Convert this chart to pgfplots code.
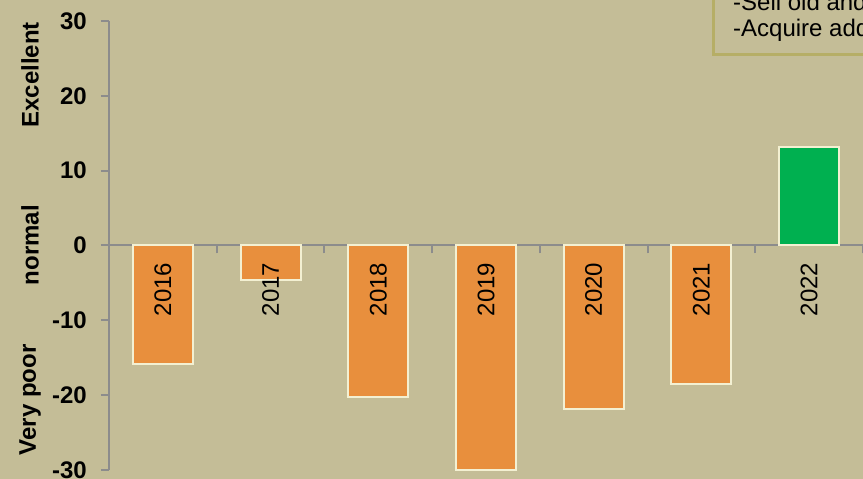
\documentclass[border=0pt]{standalone}
\usepackage{fontspec}
\setmainfont{Liberation Sans}
\usepackage{pgfplots}
\pgfplotsset{compat=1.18}
\definecolor{bg}{HTML}{C4BD97}
\definecolor{barorange}{HTML}{E88F3D}
\definecolor{bargreen}{HTML}{00B050}
\definecolor{baredge}{HTML}{F3F0D2}
\definecolor{axgray}{HTML}{8C8C8C}
\definecolor{boxedge}{HTML}{B6AE66}
\begin{document}
\begin{tikzpicture}[x=1bp,y=1bp]
\fill[bg] (0,0) rectangle (863,479);
\begin{scope}
\clip (0,0) rectangle (863,479);
\begin{axis}[
  at={(109bp,9bp)}, anchor=south west,
  scale only axis, width=754bp, height=449bp,
  xmin=-0.5, xmax=6.5, ymin=-30, ymax=30,
  axis x line=middle, axis y line=left,
  axis line style={axgray, line width=2bp, -},
  ybar, bar shift=0pt, bar width=60bp,
  xtick={-0.5,0.5,...,6.5}, xticklabels={},
  ytick={-30,-20,-10,0,10,20,30},
  yticklabels={-30,-20,-10,0,10,20,30},
  tick align=outside,
  major tick length=8bp,
  tick style={axgray, line width=2bp},
  yticklabel style={font=\fontsize{24bp}{28bp}\selectfont\bfseries, inner sep=0pt, xshift=-14bp},
  hide obscured y ticks=false,
  clip=false,
]
\addplot[fill=barorange, draw=baredge, line width=2bp] coordinates {(0,-15.9) (1,-4.6) (2,-20.2) (3,-30) (4,-21.8) (5,-18.5)};
\addplot[fill=bargreen, draw=baredge, line width=2bp] coordinates {(6,13.1)};
\foreach \i/\yr in {0/2016,1/2017,2/2018,3/2019,4/2020,5/2021,6/2022}{
  \edef\tmp{\noexpand\node[rotate=90, anchor=east, inner sep=0pt, font=\noexpand\fontsize{24bp}{28bp}\noexpand\selectfont] at ([yshift=-17bp]axis cs:\i,0) {\yr};}
  \tmp
}
\end{axis}
\draw[boxedge, line width=3.5bp, fill=bg] (713.5,424.5) rectangle (1200,600);
\node[anchor=base west, inner sep=0pt, font=\fontsize{24bp}{28bp}\selectfont] at (733,468.5) {-Sell old and unused equipment};
\node[anchor=base west, inner sep=0pt, font=\fontsize{24bp}{28bp}\selectfont] at (733,442.3) {-Acquire additional machinery};
\end{scope}
\node[rotate=90, font=\fontsize{24bp}{28bp}\selectfont\bfseries] at (30,404) {Excellent};
\node[rotate=90, font=\fontsize{24bp}{28bp}\selectfont\bfseries] at (30,234) {normal};
\node[rotate=90, font=\fontsize{24bp}{28bp}\selectfont\bfseries] at (30,79) {Very poor};
\pgfresetboundingbox
\useasboundingbox (0,0) rectangle (863,479);
\end{tikzpicture}
\end{document}
